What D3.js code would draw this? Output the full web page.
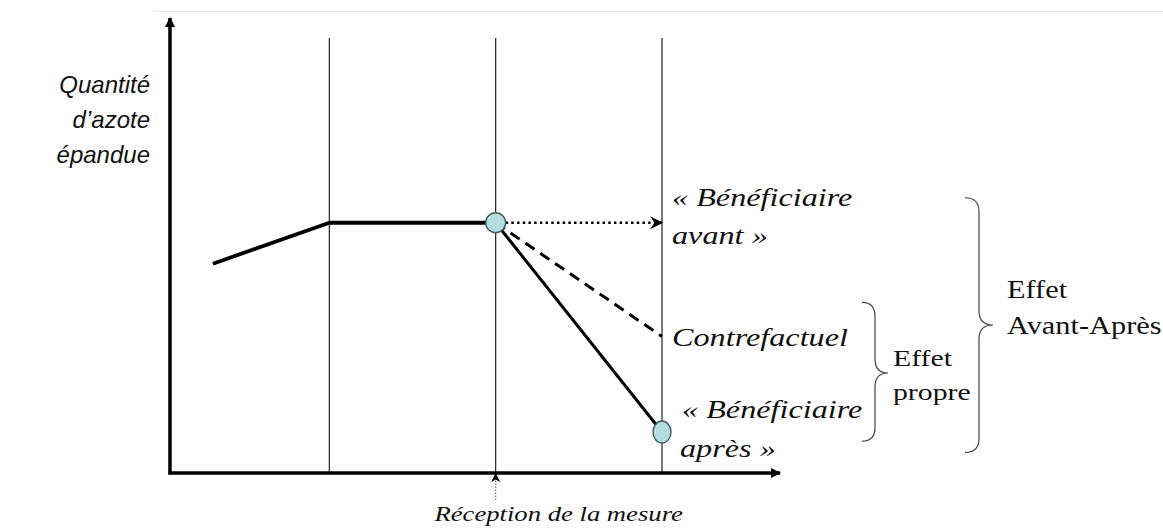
<!DOCTYPE html>
<html>
<head>
<meta charset="utf-8">
<script src="https://cdn.jsdelivr.net/npm/d3@7"></script>
<style>
  html, body { margin: 0; padding: 0; background: #fff; }
  svg { display: block; }
</style>
</head>
<body>
<svg id="chart" width="1163" height="531"></svg>
<script>
// ---------------- data ----------------
const periodMarks = [1, 2, 3];                 // vertical reference lines (time)
const treatmentTime = 2;                       // "Réception de la mesure"
const preTimes = [0.3, 1, 2];                  // observed path before the measure
const preValues = [46, 55, 55];
const postTime = 3;
const scenarioNames = ["avant", "contrefactuel", "apres"];
const scenarioValues = [55, 30, 9];
const axisTitleLines = ["Quantité", "d’azote", "épandue"];
const labelAvant = ["« Bénéficiaire", "avant »"];
const labelContre = ["Contrefactuel"];
const labelApres = ["« Bénéficiaire", "après »"];
const labelMesure = "Réception de la mesure";
const effetPropreLines = ["Effet", "propre"];
const effetAvantApresLines = ["Effet", "Avant-Après"];
const bracePropre = [37.5, 7];      // value span
const braceAvantApres = [60.5, 4.5];

// ---------------- layout ----------------
const svg = d3.select("#chart");
const x = d3.scaleLinear().domain([0, 3]).range([163, 662]);
const y = d3.scaleLinear().domain([0, 100]).range([473, 18]);
const axisT0 = 0.042, axisT1 = 3.71, lineTop = 95.6;
const SX = 1.24; // horizontal stretch of the original picture

const defs = svg.append("defs");
defs.append("marker").attr("id", "tri").attr("viewBox", "0 0 10 10")
  .attr("refX", 9).attr("refY", 5).attr("markerWidth", 10).attr("markerHeight", 10)
  .attr("markerUnits", "userSpaceOnUse").attr("orient", "auto")
  .append("path").attr("d", "M0,0 L10,5 L0,10 Z").attr("fill", "#000");
defs.append("marker").attr("id", "stealth").attr("viewBox", "0 0 12 12")
  .attr("refX", 11).attr("refY", 6).attr("markerWidth", 13).attr("markerHeight", 13)
  .attr("markerUnits", "userSpaceOnUse").attr("orient", "auto")
  .append("path").attr("d", "M0,0 L12,6 L0,12 L4,6 Z").attr("fill", "#000");
defs.append("marker").attr("id", "small").attr("viewBox", "0 0 10 10")
  .attr("refX", 9).attr("refY", 5).attr("markerWidth", 9).attr("markerHeight", 9)
  .attr("markerUnits", "userSpaceOnUse").attr("orient", "auto")
  .append("path").attr("d", "M0,0 L10,5 L0,10 L3,5 Z").attr("fill", "#000");

// faint top rule
svg.append("line").attr("x1", 153).attr("x2", 1163).attr("y1", 11.5).attr("y2", 11.5)
  .attr("stroke", "#e9e9e9").attr("stroke-width", 1.5);

// vertical reference lines
svg.selectAll("line.vref").data(periodMarks).join("line").attr("class", "vref")
  .attr("x1", d => x(d)).attr("x2", d => x(d))
  .attr("y1", y(lineTop)).attr("y2", y(0))
  .attr("stroke", "#222").attr("stroke-width", 1.2);

// axes
svg.append("line").attr("x1", x(axisT0)).attr("x2", x(axisT0))
  .attr("y1", y(0) + 1.5).attr("y2", y(100))
  .attr("stroke", "#000").attr("stroke-width", 3.5).attr("marker-end", "url(#tri)");
svg.append("line").attr("x1", x(axisT0) - 1.5).attr("x2", x(axisT1))
  .attr("y1", y(0)).attr("y2", y(0))
  .attr("stroke", "#000").attr("stroke-width", 3.5).attr("marker-end", "url(#tri)");

// Réception marker
svg.append("line").attr("x1", x(treatmentTime)).attr("x2", x(treatmentTime))
  .attr("y1", y(0) + 27).attr("y2", y(0) + 1)
  .attr("stroke", "#777").attr("stroke-width", 1.2).attr("stroke-dasharray", "1.5,1.5")
  .attr("marker-end", "url(#small)");

// observed path
const line = d3.line().x(d => x(d[0])).y(d => y(d[1]));
svg.append("path").datum(preTimes.map((t, i) => [t, preValues[i]]))
  .attr("d", line).attr("fill", "none").attr("stroke", "#000")
  .attr("stroke-width", 3.8).attr("stroke-linejoin", "round");

const start = [treatmentTime, preValues[preValues.length - 1]];
const styles = {
  avant: { dash: "2.5,3.2", width: 2.6 },
  contrefactuel: { dash: "11,7", width: 3 },
  apres: { dash: null, width: 3 }
};
scenarioNames.forEach((name, i) => {
  const p = svg.append("path").datum([start, [postTime, scenarioValues[i]]])
    .attr("d", line).attr("fill", "none").attr("stroke", "#000")
    .attr("stroke-width", styles[name].width);
  if (styles[name].dash) p.attr("stroke-dasharray", styles[name].dash);
  if (name === "avant") {
    p.datum([[treatmentTime + 0.06, start[1]], [postTime, scenarioValues[i]]])
      .attr("d", line).attr("marker-end", "url(#stealth)");
  }
});

// circles
const circ = [[treatmentTime, start[1], 10, 10], [postTime, scenarioValues[2], 9, 11]];
svg.selectAll("ellipse.pt").data(circ).join("ellipse").attr("class", "pt")
  .attr("cx", d => x(d[0])).attr("cy", d => y(d[1]))
  .attr("rx", d => d[2]).attr("ry", d => d[3])
  .attr("fill", "#b3dde0").attr("stroke", "#3f5f62").attr("stroke-width", 1.4);

// text helper (stretched horizontally)
function label(px, py, lines, opts) {
  const sx = opts.sx === undefined ? SX : opts.sx;
  const g = svg.append("g").attr("transform", `translate(${px},${py}) scale(${sx},1)`);
  lines.forEach((s, i) => {
    g.append("text").attr("x", 0).attr("y", i * opts.lh)
      .attr("text-anchor", opts.anchor || "start")
      .attr("font-family", opts.family).attr("font-style", opts.style || "normal")
      .attr("font-size", opts.size).attr("fill", "#111").text(s);
  });
}
const serif = "'Liberation Serif','Times New Roman',serif";
const sans = "'Liberation Sans',Arial,sans-serif";

label(x(postTime) + 10, y(scenarioValues[0]) - 17, labelAvant, { family: serif, style: "italic", size: 26, lh: 38 });
label(x(postTime) + 10, y(scenarioValues[1]) + 9, labelContre, { family: serif, style: "italic", size: 26, lh: 38 });
label(x(postTime) + 20, y(scenarioValues[2]) - 14, labelApres.slice(0, 1), { family: serif, style: "italic", size: 26, lh: 38 });
label(x(postTime) + 18, y(scenarioValues[2]) + 25, labelApres.slice(1), { family: serif, style: "italic", size: 26, lh: 38 });
label(x(treatmentTime) + 63, y(0) + 48, [labelMesure], { family: serif, style: "italic", size: 21.5, lh: 24, anchor: "middle" });
label(150, 93, axisTitleLines, { family: sans, style: "italic", size: 24, lh: 35, anchor: "end", sx: 1 });
label(893, 366, effetPropreLines, { family: serif, size: 24, lh: 34 });
label(1007, 298, effetAvantApresLines, { family: serif, size: 24.5, lh: 36 });

// braces
function brace(xl, y0, y1, w, ym) {
  const xm = xl + w / 2, r = 14;
  return `M${xl},${y0} Q${xm},${y0} ${xm},${y0 + r} L${xm},${ym - r} Q${xm},${ym} ${xl + w},${ym}` +
         ` Q${xm},${ym} ${xm},${ym + r} L${xm},${y1 - r} Q${xm},${y1} ${xl},${y1}`;
}
svg.append("path").attr("d", brace(862, y(bracePropre[0]), y(bracePropre[1]), 26, 373))
  .attr("fill", "none").attr("stroke", "#444").attr("stroke-width", 1.2);
svg.append("path").attr("d", brace(965, y(braceAvantApres[0]), y(braceAvantApres[1]), 28, 325))
  .attr("fill", "none").attr("stroke", "#444").attr("stroke-width", 1.2);
</script>
</body>
</html>
